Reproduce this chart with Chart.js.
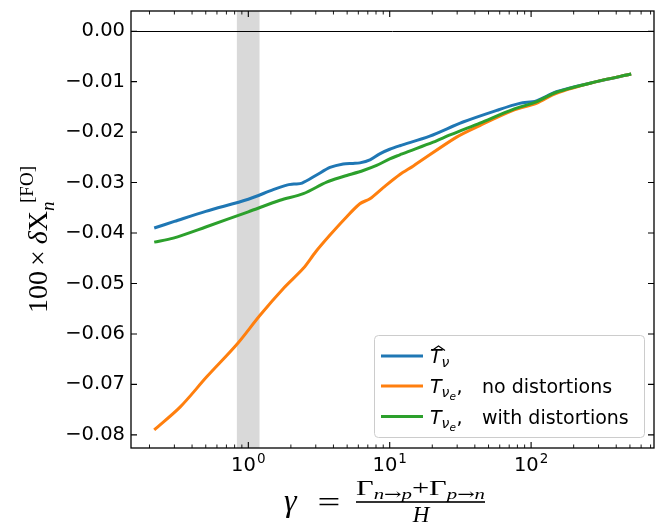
<!DOCTYPE html>
<html>
<head>
<meta charset="utf-8">
<script src="https://cdn.jsdelivr.net/npm/chart.js@4.4.1/dist/chart.umd.min.js"></script>
<style>
  html, body { margin: 0; padding: 0; background: #fff; }
  #plot { display: block; }
</style>
</head>
<body>
<canvas id="plot" width="660" height="523"></canvas>
<script>
// gamma values and 100 x dX_n^[FO]
const gammaBlue = [0.216, 0.30, 0.5, 1.0, 1.5, 1.87, 2.1, 2.4, 3.04, 3.78, 4.69, 5.5, 6.15, 7.25, 8.5, 10, 11.8, 19.2, 33, 57, 83, 109, 151, 290, 510];
const tHat      = [-0.0390, -0.0377, -0.0357, -0.0333, -0.0314, -0.0305, -0.0303, -0.0301, -0.0285, -0.0270, -0.0263, -0.0262, -0.0261, -0.0255, -0.0243, -0.0234, -0.0227, -0.0208, -0.0180, -0.0157, -0.0143, -0.0138, -0.0120, -0.0100, -0.0085];

const gammaOrange = [0.216, 0.329, 0.508, 0.828, 1.21, 1.77, 2.45, 3.0, 3.78, 4.69, 6.15, 7.25, 9.0, 11.8, 14.7, 29.7, 43.4, 74.6, 109, 151, 290, 510];
const tNoDist     = [-0.0790, -0.0745, -0.0685, -0.0621, -0.0563, -0.0510, -0.0470, -0.0437, -0.0404, -0.0375, -0.0342, -0.0332, -0.0310, -0.0284, -0.0267, -0.0210, -0.0187, -0.0157, -0.0143, -0.0123, -0.0100, -0.0085];

const gammaGreen = [0.216, 0.295, 0.5, 1.0, 1.675, 2.45, 3.58, 4.7, 6.5, 8.08, 10, 11.8, 13.1, 20.3, 27, 43.4, 74.6, 109, 151, 290, 510];
const tWithDist  = [-0.0418, -0.0410, -0.0388, -0.0358, -0.0335, -0.0322, -0.0299, -0.0288, -0.0276, -0.0266, -0.0253, -0.0245, -0.0240, -0.0220, -0.0205, -0.0182, -0.0155, -0.0140, -0.0121, -0.0100, -0.0085];

const yTicks = [0, -0.01, -0.02, -0.03, -0.04, -0.05, -0.06, -0.07, -0.08];
const xMajor = [1, 10, 100];
const xMinor = [0.2, 0.3, 0.4, 0.5, 0.6, 0.7, 0.8, 0.9, 2, 3, 4, 5, 6, 7, 8, 9, 20, 30, 40, 50, 60, 70, 80, 90, 200, 300, 400, 500, 600, 700];
const band = [0.83, 1.2];

const BLUE = '#1f77b4', ORANGE = '#ff7f0e', GREEN = '#2ca02c';

function pts(xs, ys) { return xs.map((x, i) => ({ x: x, y: ys[i] })); }

const bandPlugin = {
  id: 'band',
  beforeDatasetsDraw(chart) {
    const { ctx, chartArea: a, scales: { x, y } } = chart;
    ctx.save();
    ctx.fillStyle = '#d9d9d9';
    const x0 = x.getPixelForValue(band[0]), x1 = x.getPixelForValue(band[1]);
    ctx.fillRect(x0, a.top, x1 - x0, a.bottom - a.top);
    // zero line
    const y0 = Math.round(y.getPixelForValue(0)) + 0.5;
    ctx.strokeStyle = '#000';
    ctx.lineWidth = 1;
    ctx.beginPath();
    ctx.moveTo(a.left, y0); ctx.lineTo(a.right, y0);
    ctx.stroke();
    ctx.restore();
  }
};

const framePlugin = {
  id: 'frame',
  afterDatasetsDraw(chart) {
    const { ctx, chartArea: a, scales: { x, y } } = chart;
    ctx.save();
    ctx.strokeStyle = '#000';
    ctx.lineWidth = 1.3;
    ctx.strokeRect(a.left, a.top, a.right - a.left, a.bottom - a.top);
    ctx.lineWidth = 1.1;
    ctx.beginPath();
    yTicks.forEach(v => {
      const py = y.getPixelForValue(v);
      ctx.moveTo(a.left, py); ctx.lineTo(a.left + 6, py);
      ctx.moveTo(a.right, py); ctx.lineTo(a.right - 6, py);
    });
    xMajor.forEach(v => {
      const px = x.getPixelForValue(v);
      ctx.moveTo(px, a.bottom); ctx.lineTo(px, a.bottom - 6);
      ctx.moveTo(px, a.top); ctx.lineTo(px, a.top + 6);
    });
    ctx.stroke();
    ctx.lineWidth = 0.9;
    ctx.beginPath();
    xMinor.forEach(v => {
      const px = x.getPixelForValue(v);
      ctx.moveTo(px, a.bottom); ctx.lineTo(px, a.bottom - 3.5);
      ctx.moveTo(px, a.top); ctx.lineTo(px, a.top + 3.5);
    });
    ctx.stroke();

    // x tick labels 10^k
    ctx.fillStyle = '#000';
    ctx.textBaseline = 'alphabetic';
    ctx.textAlign = 'left';
    xMajor.forEach(v => {
      const px = x.getPixelForValue(v);
      const e = String(Math.round(Math.log10(v)));
      ctx.font = '19.5px "DejaVu Sans"';
      const wb = ctx.measureText('10').width;
      ctx.font = '13.5px "DejaVu Sans"';
      const we = ctx.measureText(e).width;
      const x0 = px - (wb + we + 1) / 2;
      ctx.font = '19.5px "DejaVu Sans"';
      ctx.fillText('10', x0, 471);
      ctx.font = '13.5px "DejaVu Sans"';
      ctx.fillText(e, x0 + wb + 1, 463);
    });

    // y axis label
    ctx.save();
    ctx.translate(47, 313);
    ctx.rotate(-Math.PI / 2);
    let cx = 0;
    ctx.font = '28px "Liberation Serif"';
    ctx.fillText('100', cx, 0); cx += ctx.measureText('100').width + 5;
    ctx.fillText('\u00d7', cx, 0); cx += ctx.measureText('\u00d7').width + 6;
    ctx.font = 'italic 28px "Liberation Serif"';
    ctx.fillText('\u03b4', cx, 0); cx += ctx.measureText('\u03b4').width;
    ctx.font = '28px "Liberation Serif"';
    ctx.fillText('X', cx, 0); cx += ctx.measureText('X').width;
    ctx.font = 'italic 19px "Liberation Serif"';
    ctx.fillText('n', cx, 7);
    ctx.font = '19px "Liberation Serif"';
    ctx.fillText('[FO]', cx + 8, -14);
    ctx.restore();

    // x axis label
    ctx.font = 'italic 32px "Liberation Serif"';
    ctx.fillText('\u03b3', 284, 511);
    ctx.save();
    ctx.translate(329, 0);
    ctx.scale(1.35, 1);
    ctx.font = '30px "Liberation Serif"';
    ctx.textAlign = 'center';
    ctx.fillText('=', 0, 512);
    ctx.restore();
    const num = [
      ['22px "Liberation Serif"', '\u0393', 0],
      ['italic 15px "Liberation Serif"', 'n', 4],
      ['15px "DejaVu Serif"', '\u2192', 4],
      ['italic 15px "Liberation Serif"', 'p', 4],
      ['22px "Liberation Serif"', '+', 0],
      ['22px "Liberation Serif"', '\u0393', 0],
      ['italic 15px "Liberation Serif"', 'p', 4],
      ['15px "DejaVu Serif"', '\u2192', 4],
      ['italic 15px "Liberation Serif"', 'n', 4]
    ];
    let tw = 0;
    num.forEach(p => { ctx.font = p[0]; tw += ctx.measureText(p[1]).width; });
    const sx = 129 / tw;
    ctx.save();
    ctx.translate(356, 495);
    ctx.scale(sx, 1);
    let nx = 0;
    num.forEach(p => { ctx.font = p[0]; ctx.fillText(p[1], nx, p[2]); nx += ctx.measureText(p[1]).width; });
    ctx.restore();
    ctx.fillRect(356, 501.2, 129, 1.6);
    ctx.font = 'italic 23px "Liberation Serif"';
    ctx.textAlign = 'center';
    ctx.fillText('H', 421, 522);
    ctx.restore();

    // legend
    drawLegend(ctx);
  }
};

function drawLegend(ctx) {
  ctx.save();
  ctx.beginPath();
  ctx.roundRect(374.5, 335.5, 270, 102, 4);
  ctx.fillStyle = 'rgba(255,255,255,0.8)';
  ctx.fill();
  ctx.strokeStyle = '#cccccc';
  ctx.lineWidth = 1;
  ctx.stroke();
  const rows = [[356, BLUE, null], [386, ORANGE, 'no distortions'], [416.5, GREEN, 'with distortions']];
  rows.forEach(r => {
    const yy = r[0];
    ctx.strokeStyle = r[1];
    ctx.lineWidth = 3;
    ctx.beginPath();
    ctx.moveTo(381, yy); ctx.lineTo(423, yy);
    ctx.stroke();
    ctx.fillStyle = '#000';
    ctx.textAlign = 'left';
    ctx.textBaseline = 'alphabetic';
    ctx.font = 'italic 19px "DejaVu Sans"';
    ctx.fillText('T', 430, yy + 7);
    let x = 430 + ctx.measureText('T').width;
    ctx.font = 'italic 14px "DejaVu Sans"';
    ctx.fillText('\u03bd', x, yy + 11);
    x += ctx.measureText('\u03bd').width;
    if (r[2] === null) {
      ctx.strokeStyle = '#000';
      ctx.lineWidth = 1.1;
      ctx.beginPath();
      ctx.moveTo(432, 350.5); ctx.lineTo(438.5, 346); ctx.lineTo(445, 350.5);
      ctx.stroke();
    } else {
      ctx.font = 'italic 10.5px "DejaVu Sans"';
      ctx.fillText('e', x, yy + 14);
      x += ctx.measureText('e').width;
      ctx.font = '19px "DejaVu Sans"';
      ctx.fillText(',', x + 0.5, yy + 7);
      ctx.fillText(r[2], 482, yy + 7);
    }
  });
  ctx.restore();
}

new Chart(document.getElementById('plot'), {
  type: 'line',
  data: {
    datasets: [
      { label: 'T_nu hat', data: pts(gammaBlue, tHat), borderColor: BLUE, order: 3 },
      { label: 'T_nue, no distortions', data: pts(gammaOrange, tNoDist), borderColor: ORANGE, order: 2 },
      { label: 'T_nue, with distortions', data: pts(gammaGreen, tWithDist), borderColor: GREEN, order: 1 }
    ]
  },
  options: {
    responsive: false,
    animation: false,
    devicePixelRatio: 1,
    layout: { padding: { top: 11, right: 6, left: 0, bottom: 0 } },
    elements: {
      line: { borderWidth: 3, tension: 0.3, fill: false, borderCapStyle: 'butt' },
      point: { radius: 0, hoverRadius: 0 }
    },
    plugins: { legend: { display: false }, tooltip: { enabled: false } },
    scales: {
      x: {
        type: 'logarithmic',
        min: 0.148, max: 740,
        grid: { display: false, drawTicks: false },
        border: { display: false },
        ticks: { display: false },
        afterFit(s) { s.height = 75; s.paddingLeft = 0; s.paddingRight = 0; }
      },
      y: {
        type: 'linear',
        min: -0.0826, max: 0.0040,
        grid: { display: false, drawTicks: false },
        border: { display: false },
        afterBuildTicks(s) { s.ticks = yTicks.map(v => ({ value: v })); },
        afterFit(s) { s.width = 131; s.paddingTop = 0; s.paddingBottom = 0; },
        ticks: {
          padding: 6,
          color: '#000',
          font: { family: 'DejaVu Sans', size: 19.5 },
          callback: v => (v < 0 ? '\u2212' : '') + Math.abs(v).toFixed(2)
        }
      }
    }
  },
  plugins: [bandPlugin, framePlugin]
});
</script>
</body>
</html>
